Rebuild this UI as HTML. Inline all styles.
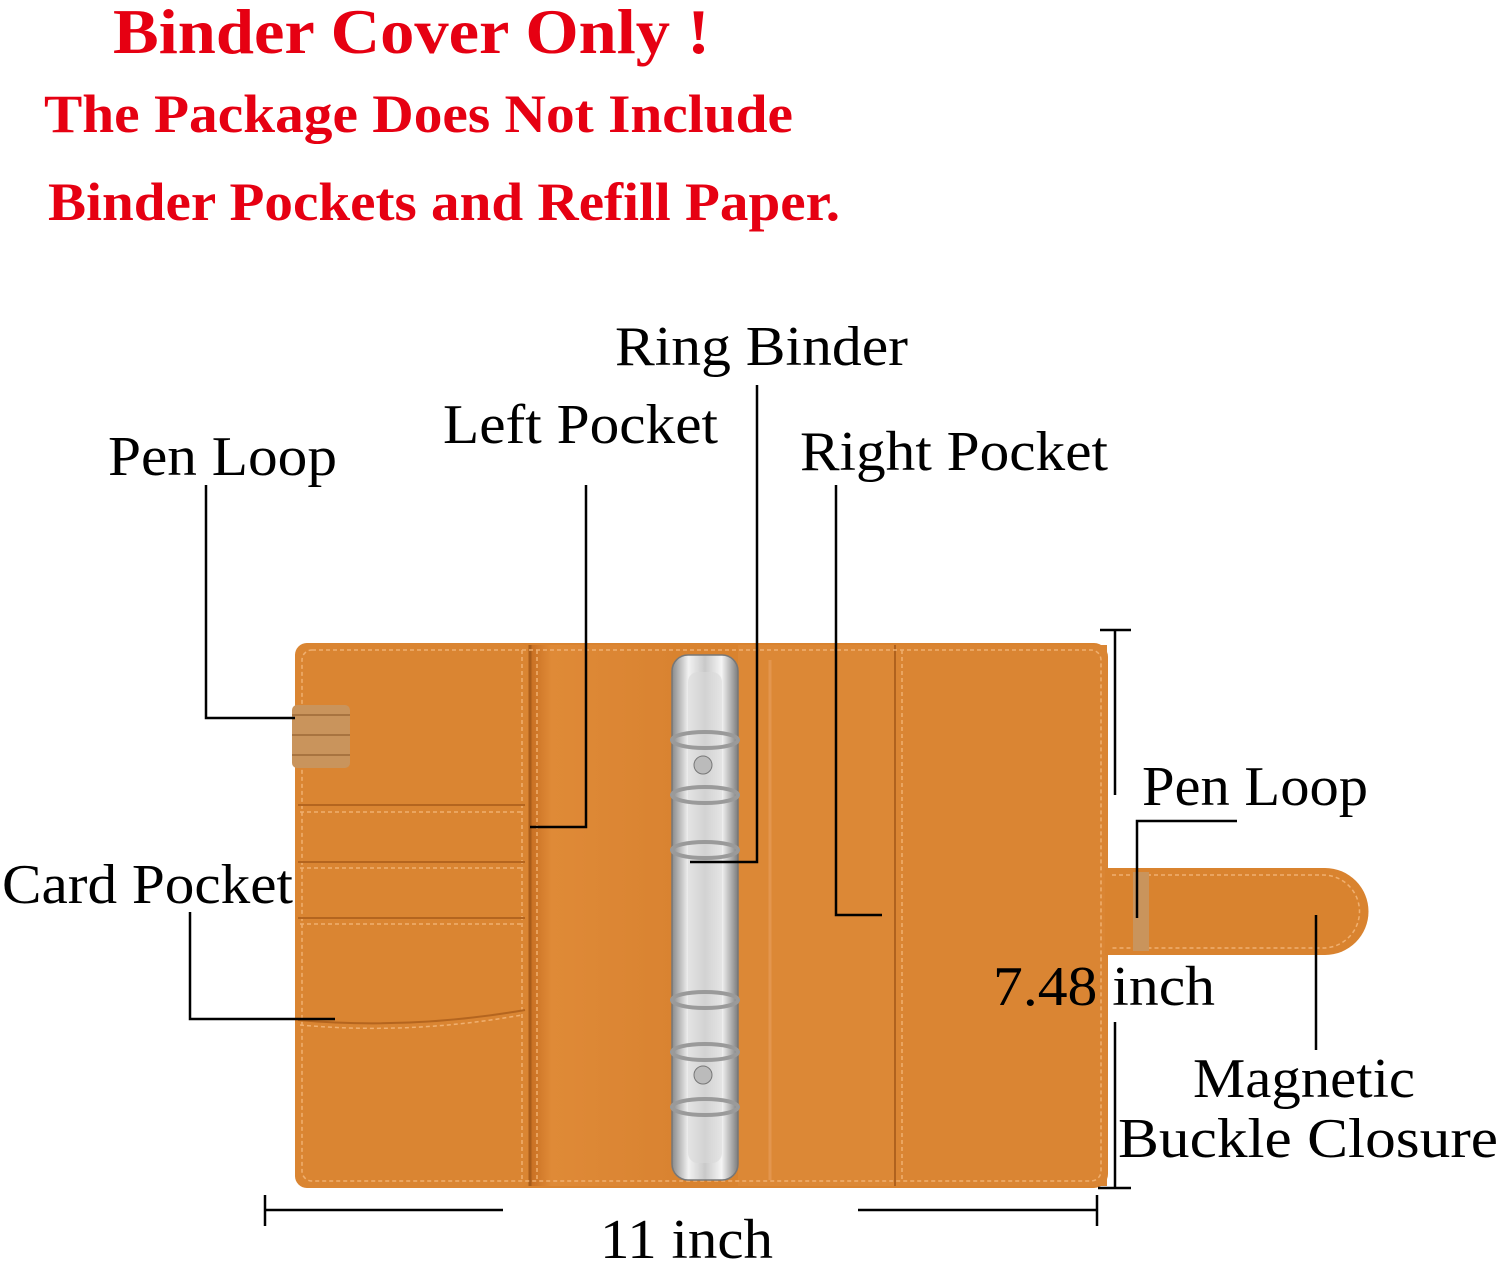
<!DOCTYPE html>
<html><head><meta charset="utf-8"><style>
html,body{margin:0;padding:0;background:#fff;}
svg{display:block}
text{font-family:"Liberation Serif",serif;}
</style></head><body>
<svg width="1500" height="1262" viewBox="0 0 1500 1262" xmlns="http://www.w3.org/2000/svg">
<defs>
<linearGradient id="met" x1="0" x2="1" y1="0" y2="0">
<stop offset="0" stop-color="#8a8a8a"/><stop offset="0.25" stop-color="#f2f2f2"/><stop offset="0.5" stop-color="#c9c9c9"/><stop offset="0.75" stop-color="#f5f5f5"/><stop offset="1" stop-color="#7d7d7d"/>
</linearGradient>
<linearGradient id="lp" x1="0" x2="1"><stop offset="0" stop-color="#c86f22"/><stop offset="0.15" stop-color="#df8a37"/><stop offset="1" stop-color="#d98331"/></linearGradient>
</defs>
<!-- red text -->
<g fill="#e60012" font-weight="bold">
<text x="113" y="53" font-size="64" textLength="597" lengthAdjust="spacingAndGlyphs">Binder Cover Only !</text>
<text x="44" y="132" font-size="54" textLength="749" lengthAdjust="spacingAndGlyphs">The Package Does Not Include</text>
<text x="48" y="220" font-size="54" textLength="792" lengthAdjust="spacingAndGlyphs">Binder Pockets and Refill Paper.</text>
</g>
<!-- binder -->
<rect x="295" y="643" width="813" height="545" rx="14" fill="#d9832f"/>
<rect x="295" y="643" width="235" height="545" rx="12" fill="#da8532"/>
<rect x="530" y="645" width="142" height="541" fill="url(#lp)"/>
<rect x="738" y="645" width="157" height="541" fill="#dc8836"/>
<rect x="895" y="645" width="212" height="541" fill="#da8533"/>
<line x1="530" y1="645" x2="530" y2="1186" stroke="#a85c1a" stroke-width="3"/>
<line x1="895" y1="645" x2="895" y2="1186" stroke="#b0621e" stroke-width="2"/>
<line x1="770" y1="660" x2="770" y2="1180" stroke="#e9a060" stroke-width="3" opacity="0.6"/>
<g fill="none" stroke="#f0b070" stroke-width="1.5" stroke-dasharray="4 3">
<rect x="302" y="650" width="799" height="531" rx="10"/>
<line x1="522" y1="650" x2="522" y2="1180"/>
<line x1="537" y1="650" x2="537" y2="1180"/>
<line x1="902" y1="650" x2="902" y2="1180"/>
<line x1="300" y1="812" x2="522" y2="812"/>
<line x1="300" y1="868" x2="522" y2="868"/>
<line x1="300" y1="924" x2="522" y2="924"/>
<path d="M300 1025 Q410 1035 522 1015"/>
</g>
<g stroke="#b4651f" stroke-width="2">
<line x1="298" y1="805" x2="525" y2="805"/>
<line x1="298" y1="862" x2="525" y2="862"/>
<line x1="298" y1="918" x2="525" y2="918"/>
<path d="M298 1020 Q410 1030 525 1010" fill="none"/>
</g>
<!-- pen loop left -->
<rect x="292" y="705" width="58" height="63" rx="5" fill="#c9945c"/>
<g stroke="#a87440" stroke-width="2"><line x1="292" y1="715" x2="350" y2="715"/><line x1="292" y1="735" x2="350" y2="735"/><line x1="292" y1="755" x2="350" y2="755"/></g>
<!-- ring binder -->
<rect x="672" y="655" width="66" height="525" rx="16" fill="url(#met)" stroke="#777" stroke-width="1.5"/>
<rect x="688" y="672" width="34" height="491" rx="10" fill="#d8d8d8" opacity="0.6"/>
<g fill="none" stroke="#9a9a9a" stroke-width="4">
<ellipse cx="705" cy="740" rx="33" ry="8"/><ellipse cx="705" cy="795" rx="33" ry="8"/><ellipse cx="705" cy="850" rx="33" ry="8"/>
<ellipse cx="705" cy="1000" rx="33" ry="8"/><ellipse cx="705" cy="1052" rx="33" ry="8"/><ellipse cx="705" cy="1107" rx="33" ry="8"/>
</g>
<circle cx="703" cy="765" r="9" fill="#bbb" stroke="#777"/>
<circle cx="703" cy="1075" r="9" fill="#bbb" stroke="#777"/>
<!-- strap -->
<path d="M1105 868 H1325 A43 43 0 0 1 1325 955 H1105 Z" fill="#d9832f"/>
<path d="M1112 875 H1323 A36 36 0 0 1 1323 948 H1112" fill="none" stroke="#f0b070" stroke-width="1.5" stroke-dasharray="4 3"/>
<rect x="1133" y="872" width="16" height="79" fill="#c9945c"/>
<!-- labels -->
<g fill="#000">
<text x="615" y="365" font-size="56" textLength="293" lengthAdjust="spacingAndGlyphs">Ring Binder</text>
<text x="443" y="443" font-size="56" textLength="275" lengthAdjust="spacingAndGlyphs">Left Pocket</text>
<text x="108" y="475" font-size="56" textLength="229" lengthAdjust="spacingAndGlyphs">Pen Loop</text>
<text x="800" y="470" font-size="56" textLength="308" lengthAdjust="spacingAndGlyphs">Right Pocket</text>
<text x="1142" y="805" font-size="56" textLength="226" lengthAdjust="spacingAndGlyphs">Pen Loop</text>
<text x="2" y="903" font-size="56" textLength="291" lengthAdjust="spacingAndGlyphs">Card Pocket</text>
<text x="993" y="1005" font-size="56" textLength="222" lengthAdjust="spacingAndGlyphs">7.48 inch</text>
<text x="1193" y="1097" font-size="56" textLength="222" lengthAdjust="spacingAndGlyphs">Magnetic</text>
<text x="1118" y="1157" font-size="56" textLength="380" lengthAdjust="spacingAndGlyphs">Buckle  Closure</text>
<text x="600" y="1258" font-size="56" textLength="173" lengthAdjust="spacingAndGlyphs">11 inch</text>
</g>
<!-- leader lines -->
<g stroke="#000" stroke-width="2.5" fill="none">
<polyline points="206,485 206,718 295,718"/>
<polyline points="586,485 586,827 530,827"/>
<polyline points="757,385 757,862 690,862"/>
<polyline points="836,485 836,915 882,915"/>
<polyline points="190,912 190,1019 335,1019"/>
<polyline points="1237,821 1137,821 1137,918"/>
<line x1="1316" y1="915" x2="1316" y2="1050"/>
<line x1="1115" y1="630" x2="1115" y2="795"/>
<line x1="1100" y1="630" x2="1131" y2="630"/>
<line x1="1115" y1="1022" x2="1115" y2="1188"/>
<line x1="1098" y1="1188" x2="1131" y2="1188"/>
<line x1="265" y1="1210" x2="503" y2="1210"/>
<line x1="265" y1="1195" x2="265" y2="1226"/>
<line x1="858" y1="1210" x2="1097" y2="1210"/>
<line x1="1097" y1="1195" x2="1097" y2="1226"/>
</g>
</svg>
</body></html>
